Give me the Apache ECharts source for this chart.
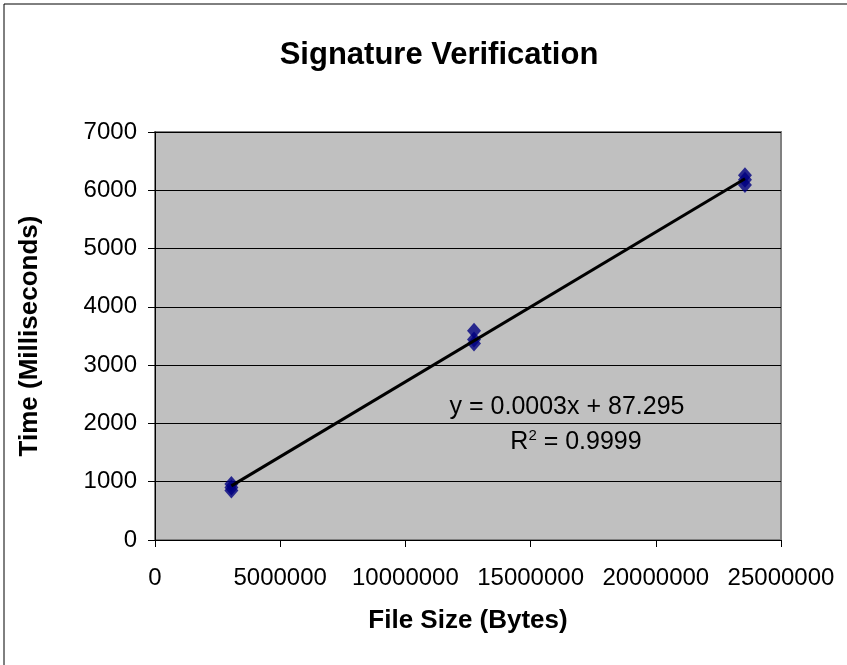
<!DOCTYPE html>
<html>
<head>
<meta charset="utf-8">
<script src="https://cdn.jsdelivr.net/npm/echarts@6/dist/echarts.min.js"></script>
<style>
html,body{margin:0;padding:0;background:#fff;}
#chart{width:847px;height:665px;}
</style>
</head>
<body>
<div id="chart"></div>
<script>
// Data
const fileSizes = [3050000, 3050000, 3050000, 12740000, 12740000, 12740000, 23560000, 23560000, 23560000];
const timesMs   = [850, 900, 960, 3370, 3440, 3590, 6090, 6180, 6260];
const yTicks = [0, 1000, 2000, 3000, 4000, 5000, 6000, 7000];
const xTicks = [0, 5000000, 10000000, 15000000, 20000000, 25000000];
const titleText = 'Signature Verification';
const xName = 'File Size (Bytes)';
const yName = 'Time (Milliseconds)';
const eqText = 'y = 0.0003x + 87.295';
const r2Value = '0.9999';

const points = fileSizes.map((x, i) => [x, timesMs[i]]);
// least squares trendline through the data
const n = fileSizes.length;
const mx = fileSizes.reduce((a, b) => a + b, 0) / n;
const my = timesMs.reduce((a, b) => a + b, 0) / n;
let sxy = 0, sxx = 0;
for (let i = 0; i < n; i++) { sxy += (fileSizes[i] - mx) * (timesMs[i] - my); sxx += (fileSizes[i] - mx) ** 2; }
const slope = sxy / sxx, icpt = my - slope * mx;
const xmin = Math.min(...fileSizes), xmax = Math.max(...fileSizes);
const trend = [[xmin, icpt + slope * xmin], [xmax, icpt + slope * xmax]];

const FONT = '"Liberation Sans", Arial, sans-serif';
const chart = echarts.init(document.getElementById('chart'), null, {renderer: 'canvas'});
chart.setOption({
  animation: false,
  backgroundColor: '#fff',
  title: {
    text: titleText, left: 434, top: 35, textAlign: 'center',
    textStyle: {fontFamily: FONT, fontSize: 31, fontWeight: 'bold', color: '#000'}
  },
  grid: {left: 155, top: 132, right: 66, bottom: 125, show: true, backgroundColor: '#c0c0c0', borderColor: '#808080', borderWidth: 2},
  xAxis: {
    type: 'value', min: xTicks[0], max: xTicks[xTicks.length - 1], interval: 5000000,
    name: xName, nameLocation: 'middle', nameGap: 68,
    nameTextStyle: {fontFamily: FONT, fontSize: 26, fontWeight: 'bold', color: '#000'},
    axisLine: {show: true, onZero: false, lineStyle: {color: '#000', width: 1}},
    axisTick: {show: true, inside: false, length: 7, lineStyle: {color: '#000'}},
    axisLabel: {fontFamily: FONT, fontSize: 24, color: '#000', margin: 26, formatter: v => String(v)},
    splitLine: {show: false}
  },
  yAxis: {
    type: 'value', min: yTicks[0], max: yTicks[yTicks.length - 1], interval: 1000,
    name: yName, nameLocation: 'middle', nameGap: 112, nameRotate: 90,
    nameTextStyle: {fontFamily: FONT, fontSize: 26, fontWeight: 'bold', color: '#000'},
    axisLine: {show: true, onZero: false, lineStyle: {color: '#000', width: 1}},
    axisTick: {show: true, inside: false, length: 7, lineStyle: {color: '#000'}},
    axisLabel: {fontFamily: FONT, fontSize: 24, color: '#000', margin: 18, formatter: v => String(v)},
    splitLine: {show: true, lineStyle: {color: '#000', width: 1}}
  },
  series: [
    {
      type: 'scatter', data: points, symbol: 'diamond', symbolSize: [14, 16],
      itemStyle: {color: '#000080'}, z: 2
    },
    {
      type: 'line', data: trend, symbol: 'none', showSymbol: false,
      lineStyle: {color: '#000', width: 3}, z: 3
    }
  ],
  graphic: [
    {type: 'rect', shape: {x: 4, y: 4, width: 900, height: 700}, style: {fill: 'none', stroke: '#000', lineWidth: 1}, silent: true, z: -1},
    {type: 'text', x: 567, y: 407, style: {text: eqText, font: '25px ' + FONT, fill: '#000', align: 'center', verticalAlign: 'middle'}, z: 10},
    {type: 'text', x: 576, y: 442, style: {
      text: '{n|R}{s|2}{n| = ' + r2Value + '}', align: 'center', verticalAlign: 'middle',
      rich: {n: {fontFamily: FONT, fontSize: 25, color: '#000'}, s: {fontFamily: FONT, fontSize: 15, color: '#000', verticalAlign: 'top', padding: [0, 0, 12, 0]}}
    }, z: 10}
  ]
});
</script>
</body>
</html>
